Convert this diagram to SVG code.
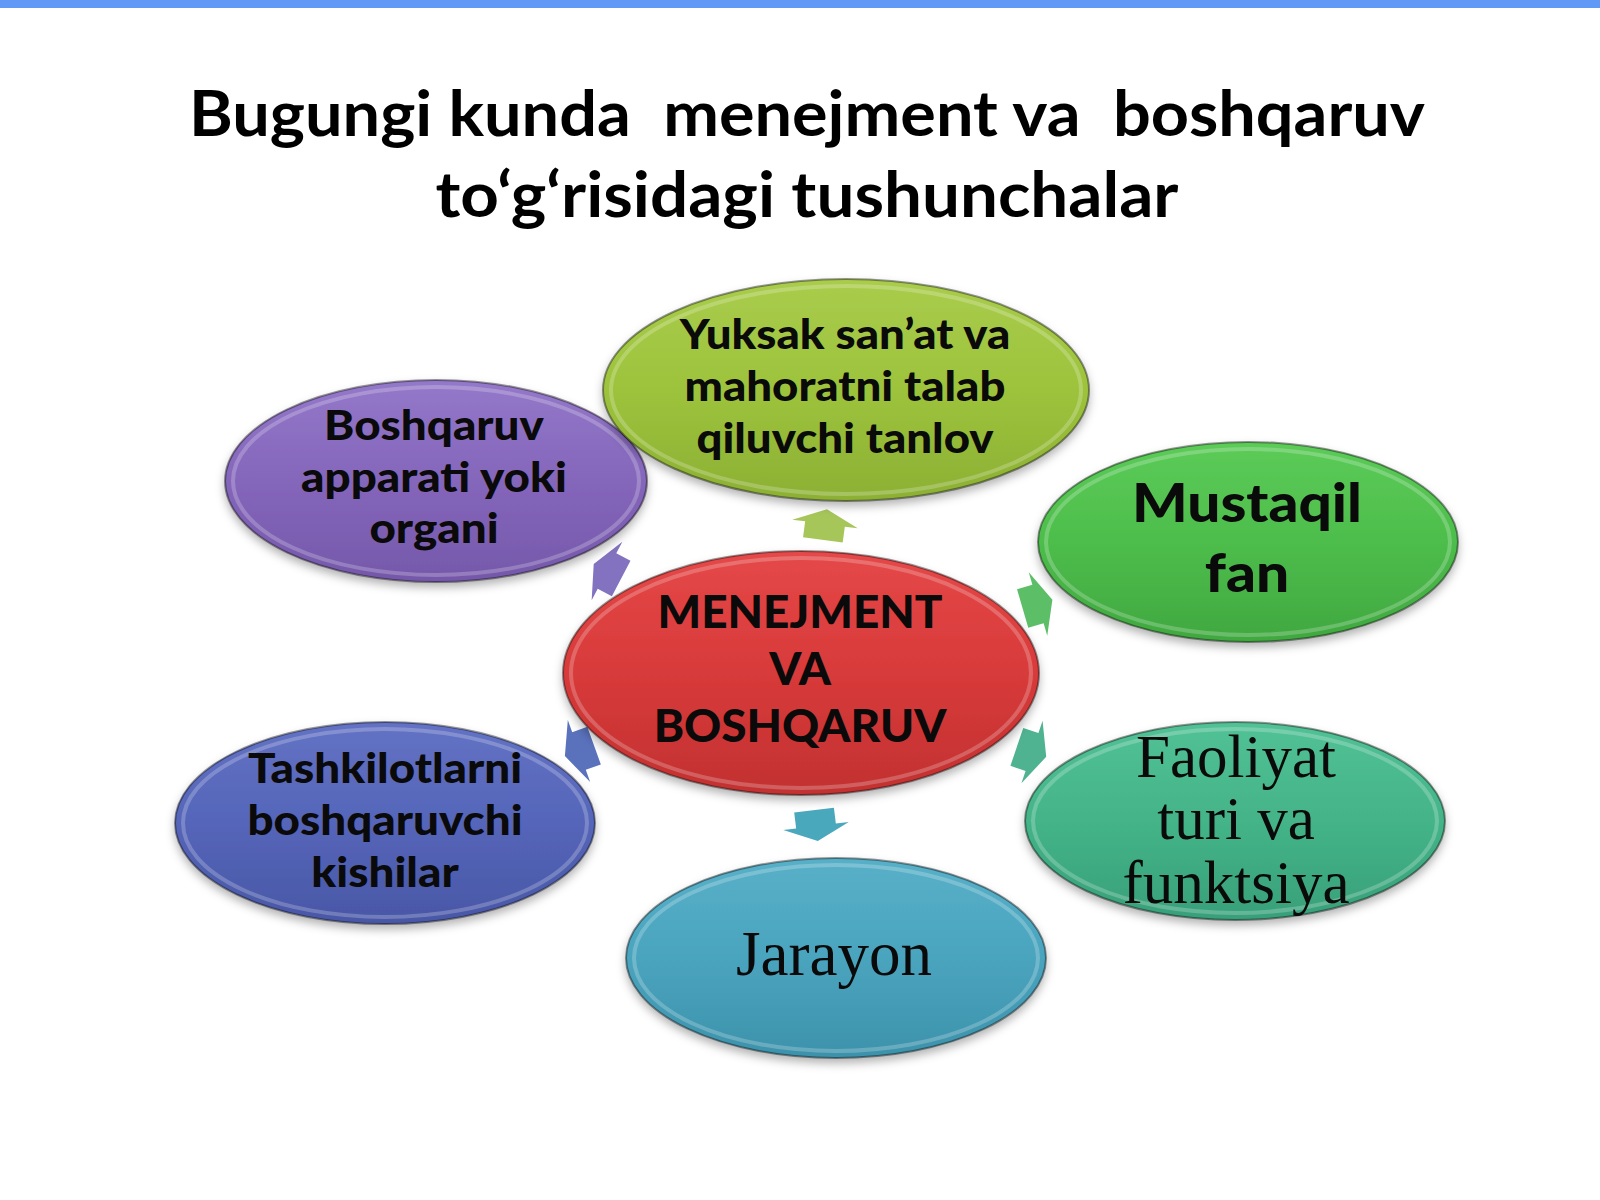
<svg xmlns="http://www.w3.org/2000/svg" xmlns:xlink="http://www.w3.org/1999/xlink" width="1600" height="1200" viewBox="0 0 1600 1200">
<defs>
<style>
.title{font-family:Lato,"Liberation Sans",sans-serif;font-weight:bold;font-size:63px;fill:#000;text-anchor:middle;white-space:pre}
.sb{font-family:Lato,"Liberation Sans",sans-serif;font-weight:900;fill:#0a0a0a;text-anchor:middle}
.sr{font-family:"Liberation Serif","DejaVu Serif",serif;fill:#0a0a0a;text-anchor:middle}
.edge{stroke:rgba(0,0,0,0.4);stroke-width:2}
.hl{fill:none;stroke:rgba(255,255,255,0.22);stroke-width:4}
</style>
<filter id="sh" x="-20%" y="-20%" width="140%" height="150%">
<feDropShadow dx="0" dy="5" stdDeviation="5" flood-color="#000" flood-opacity="0.3"/>
</filter>
<polygon id="arr" points="-16,-20 0,-20 0,-33 15,0 0,33 0,20 -16,20"/>
<linearGradient id="gPurple" x1="0" y1="0" x2="0" y2="1"><stop offset="0" stop-color="#9478c9"/><stop offset="0.5" stop-color="#8466bb"/><stop offset="1" stop-color="#7558aa"/></linearGradient>
<linearGradient id="gLime" x1="0" y1="0" x2="0" y2="1"><stop offset="0" stop-color="#a9cc4c"/><stop offset="0.5" stop-color="#9dc33c"/><stop offset="1" stop-color="#8cb034"/></linearGradient>
<linearGradient id="gGreen" x1="0" y1="0" x2="0" y2="1"><stop offset="0" stop-color="#5ccb58"/><stop offset="0.5" stop-color="#4dbd4b"/><stop offset="1" stop-color="#40a840"/></linearGradient>
<linearGradient id="gTeal" x1="0" y1="0" x2="0" y2="1"><stop offset="0" stop-color="#52c196"/><stop offset="0.5" stop-color="#44b488"/><stop offset="1" stop-color="#38a07a"/></linearGradient>
<linearGradient id="gCyan" x1="0" y1="0" x2="0" y2="1"><stop offset="0" stop-color="#58b0c8"/><stop offset="0.5" stop-color="#4aa4be"/><stop offset="1" stop-color="#3d92ab"/></linearGradient>
<linearGradient id="gBlue" x1="0" y1="0" x2="0" y2="1"><stop offset="0" stop-color="#6372c4"/><stop offset="0.5" stop-color="#5565b9"/><stop offset="1" stop-color="#4957a6"/></linearGradient>
<linearGradient id="gRed" x1="0" y1="0" x2="0" y2="1"><stop offset="0" stop-color="#e54848"/><stop offset="0.5" stop-color="#d83a3a"/><stop offset="1" stop-color="#c23131"/></linearGradient>
</defs>
<rect x="0" y="0" width="1600" height="1200" fill="#ffffff"/>
<rect x="0" y="0" width="1600" height="8" fill="#6199f7"/>
<g id="title">
<text class="title" x="807" y="136" xml:space="preserve" textLength="1236" lengthAdjust="spacingAndGlyphs">Bugungi kunda  menejment va  boshqaruv</text>
<text class="title" x="807" y="217" textLength="743" lengthAdjust="spacingAndGlyphs">to‘g‘risidagi tushunchalar</text>
</g>
<g id="connectors">
<use xlink:href="#arr" href="#arr" transform="translate(825,524) rotate(-82.4)" fill="#a6c65a"/>
<use xlink:href="#arr" href="#arr" transform="translate(1038,604) rotate(-16.3)" fill="#5cbf68"/>
<use xlink:href="#arr" href="#arr" transform="translate(1032,752) rotate(18.7)" fill="#4fb391"/>
<use xlink:href="#arr" href="#arr" transform="translate(816,826) rotate(83)" fill="#4aa8bc"/>
<use xlink:href="#arr" href="#arr" transform="translate(579,751) rotate(160.2)" fill="#5a72bc"/>
<use xlink:href="#arr" href="#arr" transform="translate(607,571) rotate(-152.3)" fill="#8272bf"/>
</g>
<g id="node-boshqaruv">
<ellipse cx="436" cy="481" rx="211" ry="101" fill="url(#gPurple)" class="edge" filter="url(#sh)"/>
<ellipse cx="436" cy="481" rx="203" ry="94" class="hl"/>
<g transform="translate(434,0) scale(1.09,1)">
<text class="sb" font-size="42" x="0" y="440">Boshqaruv</text>
<text class="sb" font-size="42" x="0" y="492">apparati yoki</text>
<text class="sb" font-size="42" x="0" y="543">organi</text>
</g>
</g>
<g id="node-yuksak">
<ellipse cx="846" cy="390" rx="243" ry="111" fill="url(#gLime)" class="edge" filter="url(#sh)"/>
<ellipse cx="846" cy="390" rx="235" ry="104" class="hl"/>
<g transform="translate(845,0) scale(1.085,1)">
<text class="sb" font-size="42" x="0" y="349">Yuksak san’at va</text>
<text class="sb" font-size="42" x="0" y="401">mahoratni talab</text>
<text class="sb" font-size="42" x="0" y="453">qiluvchi tanlov</text>
</g>
</g>
<g id="node-mustaqil">
<ellipse cx="1248" cy="542" rx="210" ry="100" fill="url(#gGreen)" class="edge" filter="url(#sh)"/>
<ellipse cx="1248" cy="542" rx="202" ry="93" class="hl"/>
<g transform="translate(1247,0) scale(1.085,1)">
<text class="sb" font-size="54" x="0" y="522">Mustaqil</text>
<text class="sb" font-size="54" x="0" y="592">fan</text>
</g>
</g>
<g id="node-faoliyat">
<ellipse cx="1235" cy="821" rx="210" ry="99" fill="url(#gTeal)" class="edge" filter="url(#sh)"/>
<ellipse cx="1235" cy="821" rx="202" ry="92" class="hl"/>
<text class="sr" font-size="61" x="1236" y="777">Faoliyat</text>
<text class="sr" font-size="61" x="1236" y="839">turi va</text>
<text class="sr" font-size="61" x="1236" y="903">funktsiya</text>
</g>
<g id="node-jarayon">
<ellipse cx="836" cy="958" rx="210" ry="100" fill="url(#gCyan)" class="edge" filter="url(#sh)"/>
<ellipse cx="836" cy="958" rx="202" ry="93" class="hl"/>
<text class="sr" font-size="63" x="834" y="975">Jarayon</text>
</g>
<g id="node-tashkilot">
<ellipse cx="385" cy="823" rx="210" ry="101" fill="url(#gBlue)" class="edge" filter="url(#sh)"/>
<ellipse cx="385" cy="823" rx="202" ry="94" class="hl"/>
<g transform="translate(385,0) scale(1.09,1)">
<text class="sb" font-size="42" x="0" y="783">Tashkilotlarni</text>
<text class="sb" font-size="42" x="0" y="835">boshqaruvchi</text>
<text class="sb" font-size="42" x="0" y="887">kishilar</text>
</g>
</g>
<g id="node-center">
<ellipse cx="801" cy="673" rx="238" ry="122" fill="url(#gRed)" class="edge" filter="url(#sh)"/>
<ellipse cx="801" cy="673" rx="230" ry="115" class="hl"/>
<g transform="translate(800,0) scale(1.02,1)">
<text class="sb" font-size="45" x="0" y="628">MENEJMENT</text>
<text class="sb" font-size="45" x="0" y="685">VA</text>
<text class="sb" font-size="45" x="0" y="742">BOSHQARUV</text>
</g>
</g>
</svg>
